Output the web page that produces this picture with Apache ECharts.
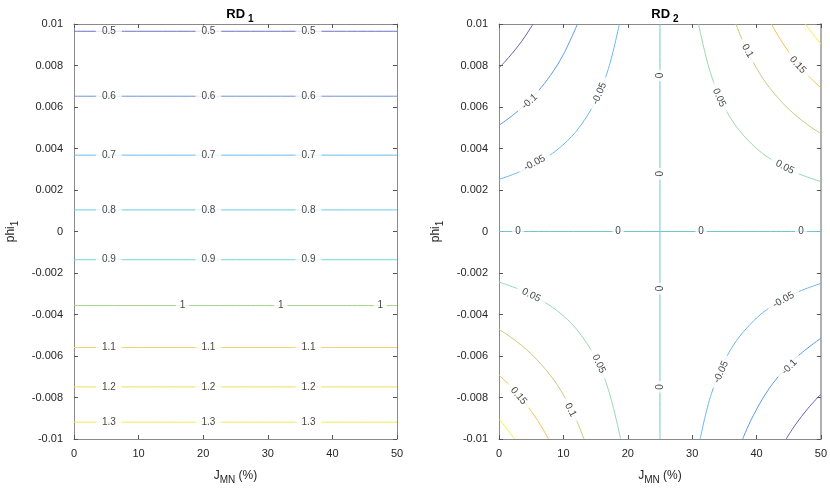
<!DOCTYPE html>
<html>
<head>
<meta charset="utf-8">
<script src="https://cdn.jsdelivr.net/npm/echarts@6/dist/echarts.min.js"></script>
<style>
	html, body { margin: 0; padding: 0; background: #fff; }
	#chart { width: 830px; height: 490px; }
</style>
</head>
<body>
<div id="chart"></div>
<script>
// RD1: horizontal contours, level -> phi_1 position
var rd1Levels = ['0.5', '0.6', '0.7', '0.8', '0.9', '1', '1.1', '1.2', '1.3'];
var rd1Phi = [0.00965, 0.00652, 0.00368, 0.00104, -0.00136, -0.00357, -0.00559, -0.00749, -0.00919];
var rd1LabelX = [5.4, 20.8, 36.3];
var rd1OneLabelX = [16.8, 32.0, 47.4];

// RD2: contour pieces, [J_MN, phi_1]
var rd2m015TL = [[0, 0.00788], [1, 0.00821], [2, 0.00857], [3, 0.00895], [4, 0.00938], [5.3, 0.01]];
var rd2m015BR = [[44.6, -0.01], [46, -0.00933], [48, -0.00852], [50, -0.00784]];
var rd2m010TL = [[0, 0.00512], [2, 0.00557], [4, 0.0061], [6, 0.00674], [8, 0.00753], [10, 0.00853], [12.2, 0.01]];
var rd2m010BR = [[37.85, -0.01], [39, -0.00918], [41, -0.00803], [43, -0.00714], [46, -0.00612], [50, -0.00514]];
var rd2m005TL = [[0, 0.00251], [3, 0.00285], [6, 0.00331], [9, 0.00393], [12, 0.00483], [15, 0.00628], [17, 0.00785], [18.7, 0.01]];
var rd2m005BR = [[31.25, -0.01], [33, -0.00781], [36, -0.00568], [40, -0.00417], [44, -0.00329], [47, -0.00284], [50, -0.0025]];
var rd2zeroH = [[0, 0], [50, 0]];
var rd2zeroV = [[25, -0.01], [25, 0.01]];
var rd2p005TR = [[31, 0.01], [33, 0.0075], [36, 0.00545], [40, 0.004], [44, 0.00316], [47, 0.00273], [50, 0.0024]];
var rd2p005BL = [[0, -0.00244], [3, -0.00277], [6, -0.00321], [9, -0.00381], [12, -0.00469], [15, -0.0061], [17, -0.00763], [18.9, -0.01]];
var rd2p010TR = [[36.8, 0.01], [38, 0.00908], [40, 0.00787], [42, 0.00694], [45, 0.0059], [48, 0.00513], [50, 0.00472]];
var rd2p010BL = [[0, -0.00472], [2, -0.00513], [5, -0.0059], [8, -0.00694], [10, -0.00787], [12, -0.00908], [13.2, -0.01]];
var rd2p015TR = [[42.3, 0.01], [44, 0.00911], [46, 0.00824], [48, 0.00752], [50, 0.00692]];
var rd2p015BL = [[0, -0.00692], [2, -0.00752], [4, -0.00824], [6, -0.00911], [7.7, -0.01]];
var rd2p020TR = [[47.6, 0.01], [48.5, 0.00962], [50, 0.00904]];
var rd2p020BL = [[0, -0.00904], [1.5, -0.00962], [2.4, -0.01]];

// RD2 inline labels: [J_MN, phi_1, text]
var rd2Labels = [
	[4.76, 0.00626, '-0.1'], [15.6, 0.00665, '-0.05'], [5.53, 0.0033, '-0.05'],
	[25, 0.00752, '0'], [25, 0.00278, '0'],
	[34.2, 0.00645, '0.05'], [44.4, 0.0031, '0.05'], [38.6, 0.0087, '0.1'], [46.4, 0.00803, '0.15'],
	[2.95, 0, '0'], [18.5, 0, '0'], [31.4, 0, '0'], [46.9, 0, '0'],
	[5, -0.00307, '0.05'], [15.5, -0.00638, '0.05'], [25, -0.00275, '0'], [25, -0.00749, '0'],
	[3.05, -0.00792, '0.15'], [11.1, -0.0086, '0.1'],
	[34.5, -0.00677, '-0.05'], [44.2, -0.0033, '-0.05'], [45.1, -0.00653, '-0.1']
];
var rd2LabelAngle = [42, 67, 28, 90, 90, -66, -28, -60, -48, 0, 0, 0, 0, -27, -65, 90, 90, -50, -63, 65, 29, 46];

var xTicks = { min: 0, max: 50, interval: 10 };
var yTicks = { min: -0.01, max: 0.01, interval: 0.002 };

// parula-like colours
var rd1Colors = ['#6f72c0', '#6f93dc', '#6cbcf0', '#6acbe0', '#74d6cc', '#a6d08a', '#f0d27a', '#f2dc58', '#f4e85a'];
var rd2Colors = {
	m015: '#6a5fb0', m010: '#5b9ae6', m005: '#6cb9ec', zero: '#6fc8d0',
	p005: '#97d8b0', p010: '#cfc67e', p015: '#f6c052', p020: '#f4ec3c'
};

var fontFamily = '"Liberation Sans", Arial, sans-serif';
var axisGray = '#8a8a8a';
var textDark = '#262626';

function makeX(grid, top) {
	return {
		type: 'value', gridIndex: grid, position: top ? 'top' : 'bottom',
		min: xTicks.min, max: xTicks.max, interval: xTicks.interval,
		axisLine: { show: true, onZero: false, lineStyle: { color: axisGray, width: 1 } },
		axisTick: { show: true, inside: true, length: 4, lineStyle: { color: '#555' } },
		axisLabel: { show: !top, color: textDark, fontSize: 11, fontFamily: fontFamily, margin: 9 },
		splitLine: { show: false },
		name: top ? '' : '{a|J}{s|MN}{a| (%)}',
		nameLocation: 'middle', nameGap: 27,
		nameTextStyle: {
			rich: {
				a: { fontSize: 12, color: textDark, fontFamily: fontFamily },
				s: { fontSize: 10, color: textDark, fontFamily: fontFamily, padding: [9, 0, 0, 0] }
			}
		}
	};
}
function makeY(grid, right) {
	var edge = right && grid === 1;
	return {
		type: 'value', gridIndex: grid, position: right ? 'right' : 'left',
		min: yTicks.min, max: yTicks.max, interval: yTicks.interval,
		axisLine: { show: true, onZero: false, lineStyle: { color: edge ? '#b0b0b0' : axisGray, width: edge ? 2 : 1 } },
		axisTick: { show: true, inside: true, length: 4, lineStyle: { color: '#555' } },
		axisLabel: { show: !right, color: textDark, fontSize: 11, fontFamily: fontFamily, margin: 11 },
		splitLine: { show: false },
		name: right ? '' : '{a|phi}{s|1}',
		nameLocation: 'middle', nameGap: 54, nameRotate: 90,
		nameTextStyle: {
			rich: {
				a: { fontSize: 12, color: textDark, fontFamily: fontFamily },
				s: { fontSize: 10, color: textDark, fontFamily: fontFamily, padding: [9, 0, 0, 0] }
			}
		}
	};
}

function lineSeries(axis, data, color) {
	return {
		type: 'line', xAxisIndex: axis, yAxisIndex: axis, data: data,
		showSymbol: false, smooth: 0.35, silent: true, z: 2,
		lineStyle: { color: color, width: 1 }
	};
}
function labelSeries(axis, data) {
	return {
		type: 'scatter', xAxisIndex: axis, yAxisIndex: axis, data: data,
		symbolSize: 1, silent: true, z: 5,
		itemStyle: { color: 'rgba(0,0,0,0)' },
		label: {
			show: true, position: 'inside', color: '#111', fontSize: 10, fontFamily: fontFamily,
			backgroundColor: '#fff', padding: [1, 6],
			formatter: function(p) { return p.data.value[2]; }
		}
	};
}

var series = [];
// RD1
rd1Levels.forEach(function(lv, i) {
	series.push(lineSeries(0, [[0, rd1Phi[i]], [50, rd1Phi[i]]], rd1Colors[i]));
});
var rd1LabelData = [];
rd1Levels.forEach(function(lv, i) {
	var xs = lv === '1' ? rd1OneLabelX : rd1LabelX;
	xs.forEach(function(x) {
		rd1LabelData.push({ value: [x, rd1Phi[i], lv], label: lv === '1' ? { padding: [1, 4] } : {} });
	});
});
series.push(labelSeries(0, rd1LabelData));

// RD2
[
	[rd2m015TL, 'm015'], [rd2m015BR, 'm015'], [rd2m010TL, 'm010'], [rd2m010BR, 'm010'],
	[rd2m005TL, 'm005'], [rd2m005BR, 'm005'], [rd2zeroH, 'zero'], [rd2zeroV, 'zero'],
	[rd2p005TR, 'p005'], [rd2p005BL, 'p005'], [rd2p010TR, 'p010'], [rd2p010BL, 'p010'],
	[rd2p015TR, 'p015'], [rd2p015BL, 'p015'], [rd2p020TR, 'p020'], [rd2p020BL, 'p020']
].forEach(function(c) {
	series.push(lineSeries(2, c[0], rd2Colors[c[1]]));
});
series.push(labelSeries(2, rd2Labels.map(function(d, i) {
	var lab = { rotate: rd2LabelAngle[i] };
	if (d[2] === '0') lab.padding = [1, 3];
	return { value: d, label: lab };
})));

var titleRich = {
	a: { fontSize: 13, fontWeight: 'bold', color: '#000', fontFamily: fontFamily },
	s: { fontSize: 10, fontWeight: 'bold', color: '#000', fontFamily: fontFamily, padding: [9, 0, 0, 3] }
};

var chart = echarts.init(document.getElementById('chart'));
chart.setOption({
	animation: false,
	backgroundColor: '#fff',
	title: [
		{ text: '{a|RD}{s|1}', left: 235, top: 0, textAlign: 'center', textStyle: { rich: titleRich } },
		{ text: '{a|RD}{s|2}', left: 660, top: 0, textAlign: 'center', textStyle: { rich: titleRich } }
	],
	grid: [
		{ left: 74, top: 24, width: 323, height: 422 },
		{ left: 499, top: 24, width: 322, height: 422 }
	],
	xAxis: [makeX(0, false), makeX(0, true), makeX(1, false), makeX(1, true)],
	yAxis: [makeY(0, false), makeY(0, true), makeY(1, false), makeY(1, true)],
	series: series
});
</script>
</body>
</html>
